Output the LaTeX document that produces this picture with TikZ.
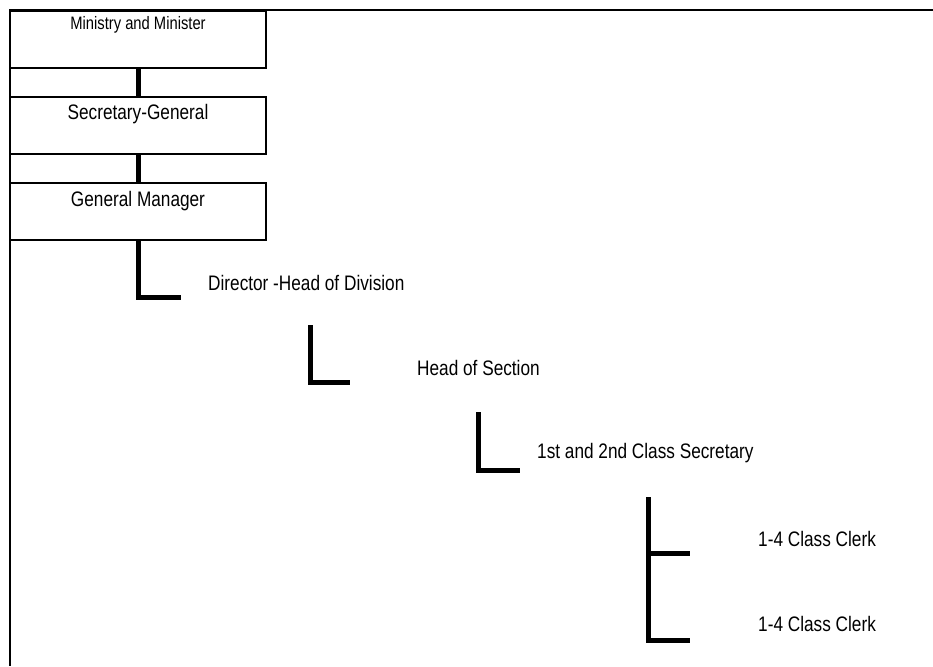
\documentclass[tikz,border=0pt]{standalone}
\usepackage{fontspec}
\setmainfont{Liberation Sans}[FakeStretch=0.82]
\usepackage{tikz}
\usetikzlibrary{positioning}

\tikzset{
  orgbox/.style={draw, line width=1.6pt, minimum width=256pt, inner sep=0pt,
    text height=23pt, text depth=34pt, font=\fontsize{21}{24}\selectfont},
  link/.style={line width=5pt},
  lbl/.style={anchor=west, inner sep=0pt, font=\fontsize{21}{24}\selectfont}
}

\begin{document}
\begin{tikzpicture}[x=1pt,y=-1pt]

\useasboundingbox (0,0) rectangle (933,666);

\draw[line width=2pt] (933,10) -- (10,10) -- (10,666); % cornice

% caselle
\node[orgbox, text height=19pt, text depth=38pt,
  font=\fontsize{18}{20}\selectfont] (ministry) at (138,39.5) {Ministry and Minister};
\node[orgbox] (secgen) at (138,125.5) {Secretary-General};
\node[orgbox] (genman) at (138,211.5) {General Manager};

\draw[link] (ministry.south) -- (secgen.north);
\draw[link] (secgen.south) -- (genman.north);

% direttore
\coordinate (dirend) at (181,297);
\draw[link] (genman.south) |- (dirend);
\node[lbl] (director) at (208,283) {Director -Head of Division};

% capo sezione
\coordinate (sectop) at (310,325);
\coordinate (secend) at (350,382);
\draw[link] (sectop) |- (secend);
\node[lbl] (section) at (417,368) {Head of Section};

% segretario
\coordinate (clstop) at (478,412);
\coordinate (clsend) at (520,470);
\draw[link] (clstop) |- (clsend);
\node[lbl] (secretary) at (537,453) {1st and 2nd Class Secretary};

% impiegati
\coordinate (clktop) at (648,497);
\coordinate (clkmid) at (690,553);
\coordinate (clkend) at (690,640);
\draw[link] (clktop) |- (clkend);
\draw[link] (clktop |- clkmid) -- (clkmid);
\node[lbl] (clerka) at (758,539) {1-4 Class Clerk};
\node[lbl] (clerkb) at (758,624) {1-4 Class Clerk};

\end{tikzpicture}
\end{document}
